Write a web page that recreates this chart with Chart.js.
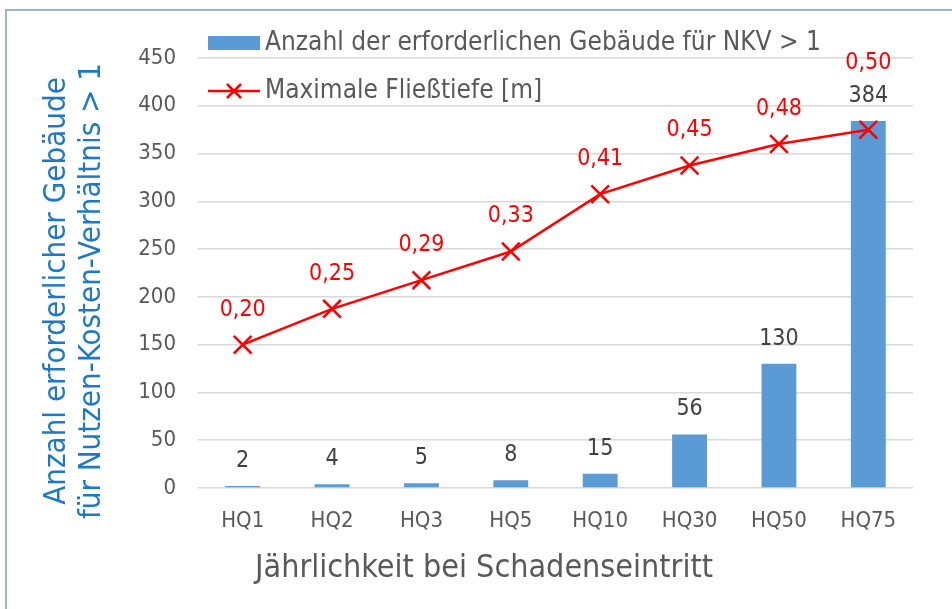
<!DOCTYPE html>
<html lang="de">
<head>
<meta charset="utf-8">
<title>Gebäude und Fließtiefe je Jährlichkeit</title>
<script src="https://cdn.jsdelivr.net/npm/chart.js@4/dist/chart.umd.min.js"></script>
<style>
    html, body { margin: 0; padding: 0; background: #ffffff; overflow: hidden; }
    #wrap { position: relative; width: 952px; height: 609px; }
    #frame {
        position: absolute; left: 5px; top: 9px; width: 1000px; height: 700px;
        border-left: 2px solid #9cb8bf; border-top: 2px solid #9cb8bf;
    }
    canvas { position: absolute; left: 0; top: 0; }
</style>
</head>
<body>
<div id="wrap">
    <div id="frame"></div>
    <canvas id="hqChart" width="952" height="609"></canvas>
</div>
<script>
const categories = ["HQ1", "HQ2", "HQ3", "HQ5", "HQ10", "HQ30", "HQ50", "HQ75"];
const buildingCounts = [2, 4, 5, 8, 15, 56, 130, 384];
const flowDepths = [0.20, 0.25, 0.29, 0.33, 0.41, 0.45, 0.48, 0.50];
const yTickValues = [0, 50, 100, 150, 200, 250, 300, 350, 400, 450];

const barLabel = "Anzahl der erforderlichen Gebäude für NKV > 1";
const lineLabel = "Maximale Fließtiefe [m]";
const xTitle = "Jährlichkeit bei Schadenseintritt";
const yTitle = ["Anzahl erforderlicher Gebäude", "für Nutzen-Kosten-Verhältnis > 1"];

const FONT = "'DejaVu Sans Condensed', 'DejaVu Sans', sans-serif";
const BLUE = "#5b9bd5";
const RED = "#ff0000";

function fmtDepth(v) {
    return v.toFixed(2).replace(".", ",");
}

// Werte über Balken und Punkten, Legende und Achsentitel
const annotate = {
    id: "annotate",
    afterDatasetsDraw(chart) {
        const ctx = chart.ctx;
        const bars = chart.getDatasetMeta(0).data;
        const pts = chart.getDatasetMeta(1).data;
        ctx.save();
        ctx.font = "23px " + FONT;
        ctx.textAlign = "center";
        ctx.textBaseline = "middle";

        const barLabelY = [];
        bars.forEach(function (bar, i) {
            const y = bar.y - 25;
            barLabelY.push(y);
            ctx.fillStyle = "#404040";
            ctx.fillText(String(buildingCounts[i]), bar.x, y);
        });

        ctx.fillStyle = RED;
        pts.forEach(function (pt, i) {
            let y = pt.y - 35;
            if (Math.abs(y - barLabelY[i]) < 26) {
                y = barLabelY[i] - 33; // nicht mit der Balkenbeschriftung kollidieren
            }
            ctx.fillText(fmtDepth(flowDepths[i]), pt.x, y);
        });
        ctx.restore();
    },
    afterDraw(chart) {
        const ctx = chart.ctx;
        ctx.save();

        // Legende
        ctx.fillStyle = BLUE;
        ctx.fillRect(208, 36, 52, 14);
        ctx.strokeStyle = RED;
        ctx.lineWidth = 2.5;
        ctx.beginPath();
        ctx.moveTo(208, 91);
        ctx.lineTo(260, 91);
        ctx.moveTo(227, 84);
        ctx.lineTo(241, 98);
        ctx.moveTo(241, 84);
        ctx.lineTo(227, 98);
        ctx.stroke();

        ctx.font = "26px " + FONT;
        ctx.fillStyle = "#595959";
        ctx.textAlign = "left";
        ctx.textBaseline = "middle";
        ctx.fillText(barLabel, 265, 43);
        ctx.fillText(lineLabel, 265, 91);

        // x-Achsentitel
        ctx.font = "32px " + FONT;
        ctx.textAlign = "center";
        ctx.fillText(xTitle, 484, 569);

        // y-Achsentitel (gedreht)
        ctx.translate(0, 291);
        ctx.rotate(-Math.PI / 2);
        ctx.font = "31px " + FONT;
        ctx.fillStyle = "#1e78c8";
        ctx.fillText(yTitle[0], 0, 57);
        ctx.fillText(yTitle[1], 0, 92);
        ctx.restore();
    }
};

new Chart(document.getElementById("hqChart").getContext("2d"), {
    data: {
        labels: categories,
        datasets: [
            {
                type: "bar",
                label: barLabel,
                data: buildingCounts,
                backgroundColor: BLUE,
                categoryPercentage: 1,
                barPercentage: 0.39,
                yAxisID: "y",
                order: 2,
            },
            {
                type: "line",
                label: lineLabel,
                data: flowDepths,
                borderColor: RED,
                borderWidth: 2.5,
                tension: 0,
                pointStyle: "crossRot",
                pointRadius: 12.5,
                pointBorderWidth: 2.5,
                pointBorderColor: RED,
                yAxisID: "y1",
                order: 1,
            },
        ],
    },
    plugins: [annotate],
    options: {
        responsive: false,
        animation: false,
        layout: {
            padding: { top: 58, right: 39, left: 0, bottom: 0 },
        },
        plugins: {
            legend: { display: false },
            tooltip: { enabled: false },
        },
        scales: {
            x: {
                grid: { display: false },
                border: { display: false },
                ticks: {
                    color: "#595959",
                    font: { family: FONT, size: 22 },
                    padding: 12,
                },
                afterFit: function (scale) {
                    scale.height = 121;
                },
            },
            y: {
                min: 0,
                max: 450,
                afterBuildTicks: function (scale) {
                    scale.ticks = yTickValues.map(function (v) { return { value: v }; });
                },
                grid: {
                    color: "#d9d9d9",
                    lineWidth: 1.5,
                    drawTicks: false,
                },
                border: { display: false },
                ticks: {
                    color: "#595959",
                    font: { family: FONT, size: 22 },
                    padding: 22,
                },
                afterFit: function (scale) {
                    scale.width = 198;
                },
            },
            y1: {
                display: false,
                min: 0,
                max: 0.6,
            },
        },
    },
});
</script>
</body>
</html>
